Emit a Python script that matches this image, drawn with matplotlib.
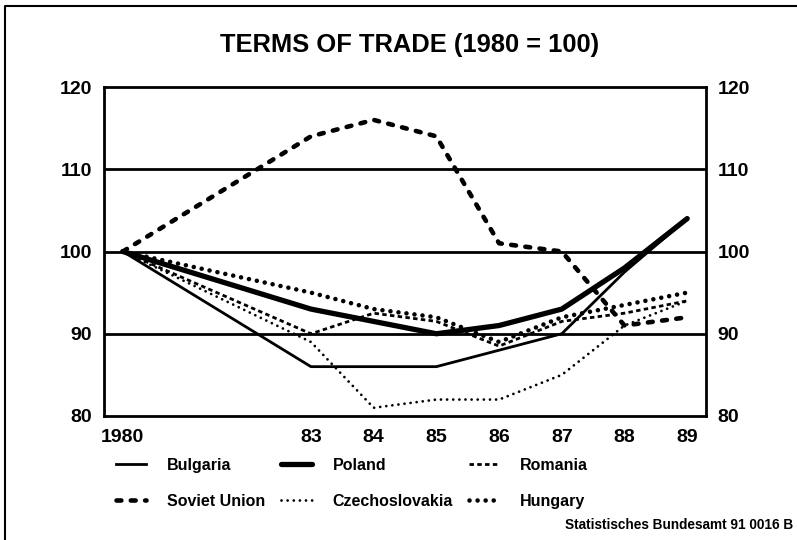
import matplotlib
matplotlib.use("Agg")
import matplotlib.pyplot as plt
from matplotlib.lines import Line2D

plt.rcParams['font.family'] = ['Liberation Sans', 'DejaVu Sans']
plt.rcParams['font.weight'] = 'bold'
plt.rcParams['lines.scale_dashes'] = False

years = [1980, 1983, 1984, 1985, 1986, 1987, 1988, 1989]
tick_labels = ['1980', '83', '84', '85', '86', '87', '88', '89']
yticks = [80, 90, 100, 110, 120]

bulgaria = [100, 86, 86, 86, 88, 90, 97.5, 104]
poland = [100, 93, 91.5, 90, 91, 93, 98, 104]
romania = [100, 90, 92.5, 91.5, 88.5, 91.5, 92.5, 94]
soviet = [100, 114, 116, 114, 101, 100, 91, 92]
czech = [100, 89, 81, 82, 82, 85, 91, 94]
hungary = [100, 95, 93, 92, 89, 92, 93.5, 95]

W, H = 797, 540
fig = plt.figure(figsize=(W / 100, H / 100), dpi=100)
ax = fig.add_axes([104 / W, 1 - 416 / H, (706 - 104) / W, (416 - 87) / H])

for yv in [90, 100, 110]:
    ax.axhline(yv, color='black', lw=2.0, zorder=1)

ax.plot(years, bulgaria, color='black', lw=2.0, label='Bulgaria', zorder=3)
ax.plot(years, poland, color='black', lw=3.8, label='Poland', zorder=3,
        solid_capstyle='round')
ax.plot(years, romania, color='black', lw=2.0, ls=(0, (3.2, 2.4)),
        label='Romania', zorder=3)
ax.plot(years, soviet, color='black', lw=3.3, ls=(0, (3.5, 6.8)),
        dash_capstyle='round', label='Soviet Union', zorder=3)
ax.plot(years, czech, color='black', lw=2.0, ls=(0, (0.01, 4.4)),
        dash_capstyle='round', label='Czechoslovakia', zorder=3)
ax.plot(years, hungary, color='black', lw=3.3, ls=(0, (0.01, 5.8)),
        dash_capstyle='round', label='Hungary', zorder=3)

ax.set_xlim(1979.70, 1989.30)
ax.set_ylim(80, 120)
ax.set_xticks(years)
ax.set_xticklabels(tick_labels)
ax.set_yticks(yticks)
ax.tick_params(axis='both', length=0, labelsize=14)
ax.tick_params(axis='y', pad=8.5, labelright=True)
ax.tick_params(axis='x', pad=9)
for lab in ax.get_yticklabels() + ax.get_xticklabels():
    lab.set_fontweight('bold')
for side in ax.spines.values():
    side.set_linewidth(2.0)

fig.text(410 / W, 1 - 45 / H, 'TERMS OF TRADE (1980 = 100)', ha='center',
         va='center', fontsize=18.4, fontweight='bold')

handles, labels = ax.get_legend_handles_labels()
order = [0, 3, 1, 4, 2, 5]
leg = fig.legend([handles[i] for i in order], [labels[i] for i in order],
                 loc='upper left', bbox_to_anchor=(116 / W, 1 - 458 / H),
                 ncol=3, frameon=False, fontsize=11.5, handlelength=1.9,
                 handletextpad=1.3, columnspacing=1.0, labelspacing=1.3,
                 borderpad=0, borderaxespad=0)
for t in leg.get_texts():
    t.set_fontweight('bold')

fig.text(793 / W, 1 - 525 / H, 'Statistisches Bundesamt 91 0016 B',
         ha='right', va='center', fontsize=9.8, fontweight='bold')

fig.add_artist(Line2D([5 / W, 5 / W, 1], [0, 1 - 6 / H, 1 - 6 / H],
                      transform=fig.transFigure, color='black', lw=1.5))

fig.savefig('out.png', dpi=100)
